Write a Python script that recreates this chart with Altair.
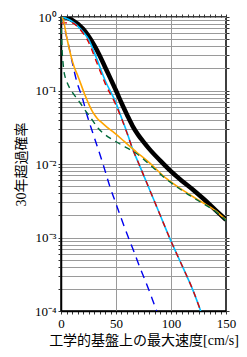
import altair as alt
import pandas as pd

# ---- data (velocity [cm/s], 30-year exceedance probability) ----
v_black = [0, 5, 10, 20, 30, 35, 40, 45, 50, 55, 60, 65, 70, 75, 80, 90, 100, 110, 120, 130, 140, 150]
p_black = [1.0, 0.98, 0.912, 0.692, 0.417, 0.302, 0.209, 0.145, 0.1, 0.0676, 0.0468, 0.0331, 0.0251, 0.02,
           0.0162, 0.0112, 0.00794, 0.00589, 0.00447, 0.00331, 0.0024, 0.00174]

v_cyan = [0, 5, 10, 15, 20, 25, 32, 40, 50, 55, 60, 65, 70, 80, 90, 100, 110, 120, 127]
p_cyan = [1.0, 0.955, 0.871, 0.759, 0.631, 0.501, 0.282, 0.138, 0.0676, 0.0427, 0.0269, 0.0162, 0.0107,
          0.00468, 0.00204, 0.000891, 0.000417, 0.000191, 0.0001]

v_red = [0, 10, 15, 20, 25, 32, 40, 50, 55, 60, 65, 70, 80, 90, 100, 110, 120, 127]
p_red = [0.832, 0.832, 0.741, 0.603, 0.457, 0.251, 0.126, 0.0631, 0.0417, 0.0263, 0.0162, 0.0107,
         0.00468, 0.00204, 0.000891, 0.000417, 0.000191, 0.0001]

v_blue = [0, 2, 4, 7, 10, 14, 20, 23, 29, 38, 44.5, 50, 55, 61, 66, 70, 80, 87]
p_blue = [0.977, 0.891, 0.631, 0.407, 0.251, 0.138, 0.0741, 0.0501, 0.0263, 0.0102, 0.0049, 0.00288,
          0.00178, 0.00102, 0.000661, 0.000457, 0.000191, 0.0001]

v_orange = [0, 1.5, 3, 5, 7, 9.4, 12, 15.5, 20, 22, 24, 26, 28, 30, 33, 36.6, 42, 48.8, 55, 61, 68, 80, 96,
            110, 126, 140, 150]
p_orange = [1.0, 0.955, 0.794, 0.55, 0.4, 0.282, 0.209, 0.155, 0.102, 0.0851, 0.0724, 0.0617, 0.0537,
            0.0479, 0.0417, 0.0372, 0.0316, 0.0263, 0.0219, 0.0182, 0.0148, 0.0105, 0.00631, 0.00447,
            0.00316, 0.00234, 0.00174]

v_green = [0, 0.5, 1, 1.7, 2.5, 3.5, 5, 8, 12, 17, 22, 26, 33.6, 40, 47, 55, 62.4, 68, 80, 96, 110, 126, 140, 150]
p_green = [1.0, 0.562, 0.355, 0.251, 0.191, 0.158, 0.135, 0.107, 0.0871, 0.0692, 0.0537, 0.0447, 0.0309,
           0.0251, 0.0214, 0.0182, 0.0158, 0.0141, 0.01, 0.00617, 0.00437, 0.00309, 0.00229, 0.0017]

x_ticks = list(range(0, 155, 5))
y_ticks = [m * 10.0 ** e for e in range(-4, 1) for m in range(1, 10) if m * 10.0 ** e <= 1.0 + 1e-9]

serif = "Liberation Serif, Noto Sans CJK JP"

xscale = alt.Scale(domain=[0, 150], nice=False, zero=False)
yscale = alt.Scale(type="log", domain=[0.0001, 1], nice=False)

sup_expr = ("datum.value >= 0.5 ? '10\u2070' : datum.value >= 0.05 ? '10\u207b\u00b9' : "
            "datum.value >= 0.005 ? '10\u207b\u00b2' : datum.value >= 0.0005 ? '10\u207b\u00b3' : '10\u207b\u2074'")
ylab_expr = ("abs(log(datum.value)/log(10) - round(log(datum.value)/log(10))) < 0.001 ? (" + sup_expr + ") : ''")

x_main = alt.X("v:Q", scale=xscale,
               axis=alt.Axis(values=x_ticks, title="工学的基盤上の最大速度[cm/s]",
                             labelExpr="datum.value % 50 == 0 ? datum.label : ''",
                             grid=True,
                             gridOpacity={"condition": {"test": "datum.value % 50 == 0 && datum.value > 0 && datum.value < 150", "value": 1}, "value": 0},
                             tickSize=3, labelPadding=3, titlePadding=3, labelFlush=False))
y_main = alt.Y("p:Q", scale=yscale,
               axis=alt.Axis(values=y_ticks, title="30年超過確率", labelExpr=ylab_expr,
                             grid=True, tickSize=3, labelPadding=2, titlePadding=6))

styles = [
    ("black", v_black, p_black, "#000000", 4.5, None),
    ("cyan", v_cyan, p_cyan, "#00bfff", 1.6, None),
    ("red", v_red, p_red, "#e00000", 1.4, [6, 5]),
    ("blue", v_blue, p_blue, "#0000ee", 1.4, [8, 6]),
    ("orange", v_orange, p_orange, "#ffa500", 1.6, None),
    ("green", v_green, p_green, "#006a3a", 1.4, [6, 5]),
]

layers = []
for i, (name, vs, ps, col, w, dash) in enumerate(styles):
    df = pd.DataFrame({"v": vs, "p": ps})
    kw = dict(color=col, strokeWidth=w, clip=True, interpolate="monotone")
    if dash:
        kw["strokeDash"] = dash
    if i == 0:
        enc = dict(x=x_main, y=y_main)
    else:
        enc = dict(x=alt.X("v:Q", scale=xscale, axis=None), y=alt.Y("p:Q", scale=yscale, axis=None))
    layers.append(alt.Chart(df).mark_line(**kw).encode(**enc))

# frame ticks on top and right
frame = alt.Chart(pd.DataFrame({"v": v_black, "p": p_black})).mark_line(opacity=0).encode(
    x=alt.X("v:Q", scale=xscale, axis=alt.Axis(orient="top", values=x_ticks, labels=False, title=None,
                                               grid=False, tickSize=3, domain=False)),
    y=alt.Y("p:Q", scale=yscale, axis=alt.Axis(orient="right", values=y_ticks, labels=False, title=None,
                                               grid=False, tickSize=3, domain=False)),
)

chart = alt.layer(*layers, frame).resolve_axis(x="independent", y="independent").properties(
    width=165, height=294,
    autosize=alt.AutoSizeParams(type="none"),
    padding={"left": 61, "top": 17, "right": 21, "bottom": 46},
    background="white",
).configure_view(stroke="#000000", strokeWidth=1.5).configure_axis(
    labelFont=serif, labelFontSize=13, labelColor="#000000",
    titleFont=serif, titleFontSize=14, titleColor="#000000", titleFontWeight="normal",
    tickColor="#333333", domainColor="#000000", domainWidth=1.5,
    gridColor="#9a9a9a", gridWidth=1, gridOpacity=1,
)

chart.save("out.html", embed_options={"renderer": "svg", "actions": False})
